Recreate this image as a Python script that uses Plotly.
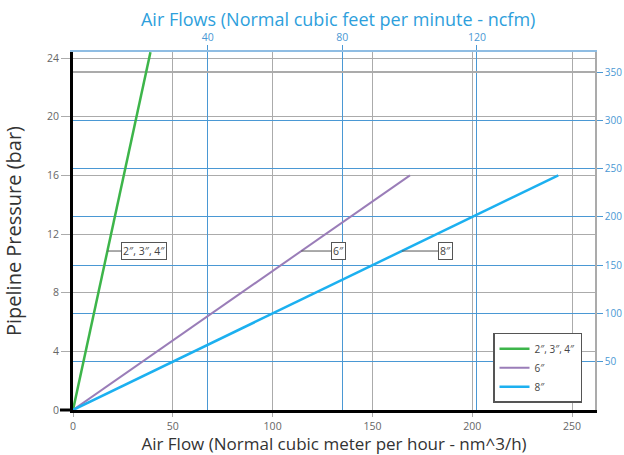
import numpy as np
import plotly.graph_objects as go

# ---- data ----
series_names = ["2\u2033, 3\u2033, 4\u2033", "6\u2033", "8\u2033"]
flow_nm3h = [[0, 38.8], [0, 168.8], [0, 243.1]]      # Air flow (nm^3/h)
pressure_bar = [[0, 24.4], [0, 16], [0, 16]]           # Pipeline pressure (bar)
series_colors = ["#3db54a", "#9a7db8", "#1cb0f0"]
series_widths = [2.5, 2, 2.5]

x_ticks = [0, 50, 100, 150, 200, 250]
y_ticks = [0, 4, 8, 12, 16, 20, 24]
ncfm_ticks = [40, 80, 120]
psi_ticks = [50, 100, 150, 200, 250, 300, 350]
psi_blue_grid = [50, 100, 150, 200, 250, 300]
psi_gray_grid = [350]

label_pressure = 10.84          # pressure at which the callouts sit
label_offsets = [37, 37, 44]    # px offset of callout boxes

x_max = 261.5
y_max = 24.41
ncfm_per_nm3h = 0.593
psi_per_bar = 15.19

GRAY = "#ababab"
BLUE = "#4a98d4"
TBLUE = "#2e9fdc"
FONT = "Open Sans"

fig = go.Figure()
for name, xs, ys, c, w in zip(series_names, flow_nm3h, pressure_bar, series_colors, series_widths):
    fig.add_trace(go.Scatter(x=xs, y=ys, mode="lines", name=name,
                             line=dict(color=c, width=w), hoverinfo="skip"))

# invisible traces so the secondary axes are drawn
for ya in ["y2", "y3", "y4"]:
    fig.add_trace(go.Scatter(x=[0], y=[0], xaxis="x2", yaxis=ya, mode="markers",
                             marker=dict(opacity=0), showlegend=False, hoverinfo="skip"))

# callouts
for name, xs, ys, off in zip(series_names, flow_nm3h, pressure_bar, label_offsets):
    xp = float(np.interp(label_pressure, ys, xs))
    fig.add_annotation(x=xp, y=label_pressure, xref="x", yref="y", text=name,
                       showarrow=True, arrowhead=0, arrowwidth=1, arrowcolor="#555",
                       ax=off, ay=0, font=dict(family=FONT, size=10.5, color="#444"),
                       bgcolor="white", bordercolor="#555", borderwidth=1, borderpad=1)

fig.add_shape(type="line", xref="paper", yref="paper", x0=-0.025, x1=0, y0=0, y1=0,
              line=dict(color="black", width=3))

psi_range = [0, y_max * psi_per_bar]
hidden = dict(overlaying="y", side="right", anchor="x", range=psi_range,
              showticklabels=False, ticks="", zeroline=False, showline=False,
              automargin=False)

fig.update_layout(
    width=624, height=455,
    margin=dict(l=73, r=29, t=52, b=45, autoexpand=False),
    paper_bgcolor="white", plot_bgcolor="white",
    font=dict(family=FONT, color="#555"),
    title=dict(text="Air Flows (Normal cubic feet per minute - ncfm)",
               font=dict(family=FONT, size=18, color=TBLUE),
               xref="paper", x=0.508, xanchor="center",
               yref="container", y=1 - 20 / 455, yanchor="middle"),
    showlegend=True,
    legend=dict(x=0.8046, y=0.02, xanchor="left", yanchor="bottom",
                bgcolor="white", bordercolor="#555", borderwidth=1.5,
                font=dict(family=FONT, size=10, color="#444"),
                itemwidth=30, tracegroupgap=0),
    xaxis=dict(range=[0, x_max], tickvals=x_ticks, showgrid=True, gridcolor=GRAY,
               gridwidth=1, zeroline=False, showline=True, linecolor="black", linewidth=3,
               ticks="outside", ticklen=4, tickcolor=GRAY, automargin=False,
               tickfont=dict(family=FONT, size=10.5, color="#666"),
               title=dict(text="Air Flow (Normal cubic meter per hour - nm^3/h)",
                          font=dict(family=FONT, size=17, color="#333"), standoff=3)),
    yaxis=dict(range=[0, y_max], tickvals=y_ticks, showgrid=True, gridcolor=GRAY,
               gridwidth=1, zeroline=False, showline=True, linecolor="black", linewidth=3,
               ticks="outside", ticklen=9, tickcolor=GRAY, automargin=False,
               tickfont=dict(family=FONT, size=10.5, color="#666"),
               title=dict(text="Pipeline Pressure (bar)",
                          font=dict(family=FONT, size=20, color="#333"), standoff=20)),
    xaxis2=dict(overlaying="x", side="top", anchor="y",
                range=[0, x_max * ncfm_per_nm3h], tickvals=ncfm_ticks,
                showgrid=True, gridcolor=BLUE, gridwidth=1.2, zeroline=False,
                showline=True, linecolor="#8fbde3", linewidth=2, automargin=False,
                ticks="outside", ticklen=5, tickcolor=BLUE,
                tickfont=dict(family=FONT, size=10.5, color=BLUE)),
    yaxis2=dict(overlaying="y", side="right", anchor="x",
                range=psi_range, tickvals=psi_ticks,
                showgrid=False, zeroline=False,
                showline=True, linecolor=GRAY, linewidth=1.5, automargin=False,
                ticks="outside", ticklen=6, tickcolor=BLUE,
                tickfont=dict(family=FONT, size=10, color=BLUE)),
    yaxis3=dict(hidden, tickvals=psi_blue_grid, showgrid=True, gridcolor=BLUE, gridwidth=1.2),
    yaxis4=dict(hidden, tickvals=psi_gray_grid, showgrid=True, gridcolor=GRAY, gridwidth=1.5),
)

fig.write_html("out.html", config={"displayModeBar": False},
               post_script="document.body.style.margin='0';document.body.style.overflow='hidden';")
